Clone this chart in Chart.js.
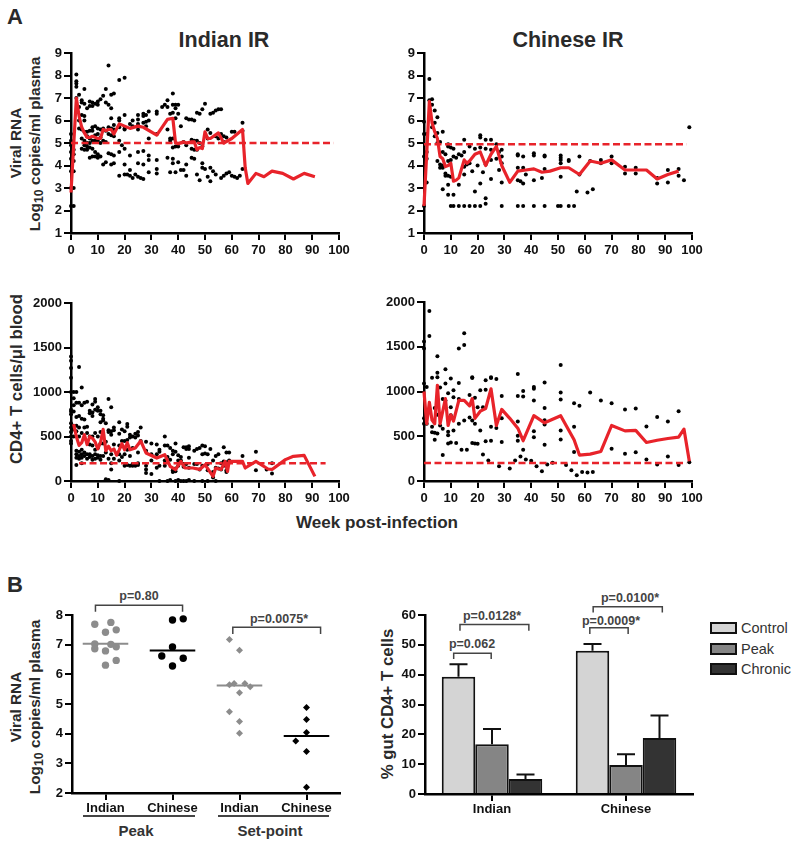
<!DOCTYPE html>
<html>
<head>
<meta charset="utf-8">
<title>Viral RNA and CD4+ T cells</title>
<script src="https://cdn.jsdelivr.net/npm/chart.js@4/dist/chart.umd.min.js"></script>
<style>
    html, body { margin: 0; padding: 0; background: #fff; }
    #page { position: relative; width: 800px; height: 846px; overflow: hidden; font-family: "Liberation Sans", Arial, sans-serif; color: #2a2a2a; }
    canvas { position: absolute; }
    .t { position: absolute; white-space: nowrap; font-weight: bold; transform: translate(-50%, -50%); }
    .v { transform: translate(-50%, -50%) rotate(-90deg); }
    .ylab { font-size: 15.4px; }
    .ylab2 { font-size: 16.8px; }
    .pval { font-size: 12.5px; color: #444; }
    .grp { font-size: 15px; color: #333; }
    sub { font-size: 80%; line-height: 0; vertical-align: -3px; }
    .rule { position: absolute; height: 1.5px; background: #444; }
    .swatch { position: absolute; width: 23px; height: 8px; border: 2px solid #111; }
    .key { position: absolute; font-size: 14.5px; color: #333; white-space: nowrap; transform: translateY(-50%); }
</style>
</head>
<body>
<div id="page">
    <div class="t" style="left:15px;top:17px;font-size:22px">A</div>
    <div class="t" style="left:15px;top:585px;font-size:22px">B</div>
    <div class="t" style="left:224px;top:40px;font-size:21.5px">Indian IR</div>
    <div class="t" style="left:568px;top:40px;font-size:21.5px">Chinese IR</div>

    <div class="t v ylab" style="left:16px;top:143px">Viral RNA</div>
    <div class="t v ylab" style="left:35px;top:144px">Log<sub>10</sub> copies/ml plasma</div>
    <div class="t v ylab2" style="left:17px;top:379px">CD4+ T cells/μl blood</div>
    <div class="t" style="left:377px;top:523px;font-size:17.1px">Week post-infection</div>

    <div class="t v ylab" style="left:16px;top:707px">Viral RNA</div>
    <div class="t v ylab" style="left:35px;top:707px">Log<sub>10</sub> copies/ml plasma</div>
    <div class="t v ylab2" style="left:388px;top:704px">% gut CD4+ T cells</div>

    <div class="t pval" style="left:139px;top:596px">p=0.80</div>
    <div class="t pval" style="left:279px;top:619px">p=0.0075*</div>
    <div class="t pval" style="left:472px;top:644px">p=0.062</div>
    <div class="t pval" style="left:492px;top:616px">p=0.0128*</div>
    <div class="t pval" style="left:611px;top:621px">p=0.0009*</div>
    <div class="t pval" style="left:630px;top:598px">p=0.0100*</div>

    <div class="rule" style="left:83px;top:815px;width:112px"></div>
    <div class="rule" style="left:218px;top:815px;width:111px"></div>
    <div class="t grp" style="left:136px;top:830px">Peak</div>
    <div class="t grp" style="left:270px;top:830px">Set-point</div>

    <div id="legend"></div>

    <canvas id="rnaIndian"></canvas>
    <canvas id="rnaChinese"></canvas>
    <canvas id="cd4Indian"></canvas>
    <canvas id="cd4Chinese"></canvas>
    <canvas id="peakSet"></canvas>
    <canvas id="gutBars"></canvas>
</div>

<script>
// Panel A, viral RNA: [week, [values]]
const rnaIndianDots = [
    [0, [2.2, 3.0, 3.75, 4.3, 4.6, 4.9, 5.1, 5.4]], [1, [2.2, 3.0, 3.75, 4.2, 4.5, 4.7]],
    [2, [8.05, 7.75, 7.65, 7.5, 7.0]], [3, [7.15, 6.6, 6.0, 5.65]], [4, [6.9, 6.8, 6.25, 5.6, 5.2, 4.75]],
    [5, [7.4, 6.75, 6.2, 6.0, 5.5, 5.1, 4.9, 4.7]], [6, [6.55, 5.5, 5.3, 5.0, 4.85, 4.7]],
    [7, [6.85, 6.65, 5.55, 5.2, 5.0, 4.8, 4.35]], [8, [6.8, 6.65, 5.7, 5.55, 5.1, 4.75, 4.4]],
    [9, [6.75, 5.75, 5.35, 5.1, 4.6, 4.4]], [10, [6.85, 6.7, 5.65, 5.4, 5.1, 4.5, 4.35]],
    [11, [6.95, 5.6, 5.25, 5.0, 4.4]], [12, [7.1, 5.65, 5.1, 4.05]], [13, [7.4, 6.8, 5.55, 5.05, 4.15]],
    [14, [8.45, 6.7, 5.7, 5.4, 4.55]], [15, [7.15, 6.55, 6.1, 5.65, 5.35, 4.5, 4.05]],
    [16, [7.2, 5.8, 5.6, 5.3, 4.45, 4.1]], [18, [7.8, 6.1, 6.0, 5.7, 5.1, 4.6, 3.55]], [19, [4.9]],
    [20, [7.9, 6.25, 5.65, 5.6, 4.75, 4.05, 3.6]], [21, [3.6]], [22, [5.85, 4.45, 3.8, 3.55]],
    [23, [6.0, 5.75, 3.45]], [24, [3.6]], [25, [6.25, 6.05, 5.85, 5.6, 4.6, 4.1, 3.5]], [26, [3.45]],
    [27, [6.3, 6.2, 5.9, 4.65, 4.05, 3.4]], [28, [6.25, 5.95, 5.75]], [29, [6.4, 6.0, 5.2, 4.45, 4.25, 3.7]],
    [32, [6.4, 6.3, 5.4, 4.25, 3.85, 3.65]], [34, [6.6]], [35, [6.7]], [36, [6.9, 6.6, 5.6, 4.35]],
    [37, [6.3, 5.2, 5.1, 3.7]], [38, [7.2, 6.7, 6.35, 5.2, 4.8, 4.3, 4.1]], [39, [6.7, 6.55, 6.1, 4.85, 3.7]],
    [40, [6.7, 6.3, 4.85, 4.15]], [41, [5.75, 3.8]], [42, [5.05, 3.8]], [43, [6.1, 4.9, 4.05, 3.55]],
    [44, [6.05]], [45, [6.05, 5.15, 4.75, 4.35]], [46, [6.0, 5.1, 4.7, 4.3]], [47, [6.35, 5.1, 4.7, 3.6]],
    [48, [6.3, 5.0, 3.35]], [49, [6.5, 4.85, 4.1, 3.9]], [50, [6.75, 3.85]], [51, [5.6, 5.2, 3.5]],
    [52, [6.3, 5.45, 3.9, 3.3]], [53, [6.35, 3.75]], [54, [6.45, 5.3, 3.6]], [55, [6.5, 5.2]],
    [56, [6.5, 5.4, 3.45]], [57, [5.3, 5.05, 3.55]], [58, [5.25, 3.65]], [59, [3.7]], [60, [5.5, 3.55]],
    [61, [5.5, 3.5]], [62, [3.45]], [63, [3.55]], [64, [5.9, 5.55, 3.85]]
];
const rnaChineseDots = [
    [0, [2.2, 4.4, 5.4, 5.95]], [1, [3.25, 4.3, 4.6, 5.4]], [2, [7.85, 6.9]], [3, [6.95, 6.7, 5.7]],
    [4, [6.45, 5.9, 5.3]], [5, [6.15, 5.45, 5.0, 4.2]], [6, [5.05, 4.05, 3.9]], [7, [5.5, 4.6, 4.0, 3.9, 2.95]],
    [8, [4.5, 3.65, 3.55]], [9, [4.95, 4.85, 4.2, 3.55, 3.15, 2.7]], [10, [4.8, 4.25, 3.5, 2.2]],
    [11, [4.75, 4.4, 2.7, 2.2]], [12, [4.35]], [13, [4.5, 3.15, 2.2]], [14, [4.45]],
    [15, [5.15, 4.6, 3.95, 3.6, 2.2]], [16, [4.05]], [17, [4.85, 4.1, 2.2]], [18, [3.75]],
    [19, [4.75, 2.85, 2.2]], [20, [4.0]], [21, [5.35, 5.25, 4.8, 3.2, 2.2]], [22, [3.7]],
    [23, [5.15, 4.75, 4.05, 2.55, 2.3]], [25, [5.15, 4.7, 4.25, 3.4]], [27, [4.95, 4.3]], [28, [4.6, 3.8]],
    [29, [4.7, 4.4, 4.1, 3.25, 2.2]], [35, [4.5, 4.45, 3.9, 3.35, 2.2]], [36, [3.3]],
    [37, [4.4, 3.9, 3.2, 2.2]], [38, [3.6]], [41, [4.55, 4.45, 3.35, 2.2]], [44, [3.45]],
    [45, [4.45, 4.4, 3.85, 2.2]], [50, [2.2]], [51, [4.45, 4.35, 4.25, 4.1, 3.5, 2.2]], [54, [4.25, 4.2, 2.2]],
    [56, [2.2]], [57, [2.85]], [58, [4.4, 3.6]], [61, [2.8]], [62, [4.2]], [63, [2.95]], [66, [4.25, 4.1]],
    [70, [4.4, 4.1]], [75, [3.95, 3.65]], [79, [3.9, 3.65]], [87, [3.45, 3.2]], [91, [3.8, 3.25]],
    [95, [3.85, 3.55]], [97, [3.35]], [99, [5.7]]
];

// Panel A, CD4 counts: [week, [values]]
const cd4IndianDots = [
    [0, [1400, 1350, 1270, 1160, 1000, 800, 780, 750, 650, 600, 550, 500, 450, 420]],
    [1, [1000, 930, 850, 780, 620, 580, 500]], [2, [1000, 880, 720, 620, 560, 340, 300, 260, 180]],
    [3, [1280, 880, 730, 600, 500, 330, 280, 250]], [4, [1050, 850, 700, 540, 350, 300, 260, 200]],
    [5, [880, 690, 600, 480, 320, 280]], [6, [890, 610, 540, 300, 250]], [7, [790, 760, 500, 410, 300, 270]],
    [8, [860, 770, 730, 500, 400, 280, 240]], [9, [920, 890, 800, 540, 350, 300, 250]],
    [10, [830, 790, 500, 370, 290, 260]], [11, [790, 750, 660, 550, 420, 280, 240]],
    [12, [740, 700, 680, 420, 280]], [13, [650, 440, 320, 20]], [14, [920, 570, 550, 250, 10]],
    [15, [830, 560, 520, 300, 200, 130]], [16, [600, 570, 410, 250]], [18, [660, 530, 400, 300, 230, 0]],
    [19, [580, 450, 390, 270]], [20, [560, 450, 300, 170]], [21, [640, 610, 460, 350, 180]],
    [22, [520, 490, 280, 170]], [23, [500, 370, 190, 170]], [24, [530, 490, 190, 170]],
    [25, [550, 510, 320, 200, 180]], [26, [600, 450]], [28, [440, 340, 170, 130, 90]], [30, [420, 300, 230, 80]],
    [32, [410, 300, 150]], [33, [350, 330, 170, 0]], [35, [500, 400, 230, 170]], [36, [400, 270, 0]],
    [37, [370, 240, 10]], [38, [340, 300, 120, 100]], [39, [420, 330, 140, 110, 0]], [40, [290, 230, 170, 10]],
    [41, [270, 230, 0]], [42, [380, 190, 160, 0]], [43, [380, 360, 190, 0]], [44, [390, 360, 260, 150, 10]],
    [46, [340, 190, 0]], [47, [360, 190]], [48, [370, 130]], [49, [400, 300, 170, 0]], [50, [390, 310]],
    [51, [300, 190, 120, 0]], [52, [360]], [53, [230, 100, 40]], [54, [280, 150, 0]], [55, [300, 140]],
    [56, [200, 130]], [57, [380, 220, 170]], [58, [320, 210, 120, 100]], [59, [320, 230]], [64, [280]],
    [69, [330, 120]], [73, [130]], [75, [200, 85]]
];
const cd4ChineseDots = [
    [0, [1560, 1480, 1090, 700, 640]], [1, [1050, 640]], [2, [1900, 1620]], [3, [1155, 605, 545]],
    [4, [815, 540, 460]], [5, [1395, 1210, 1160, 740, 530]], [6, [1045, 620]], [7, [915, 585, 290]],
    [8, [1250, 1090, 900]], [9, [980, 550, 510, 420]], [10, [1145, 825, 735, 430]], [11, [1015, 935, 565]],
    [12, [425]], [13, [1480, 1095, 915, 640]], [14, [350]], [15, [1650, 1520, 675]], [16, [350]],
    [17, [960, 710]], [18, [1160, 1150, 675, 425]], [19, [930, 640, 420]], [20, [825, 415]],
    [21, [1015, 565]], [22, [825, 295]], [23, [1125, 1020, 445]], [24, [230]], [25, [1160, 1150, 605, 450]],
    [27, [1140, 593]], [28, [165]], [29, [950, 700, 435]], [32, [140]], [34, [230]],
    [35, [1195, 950, 665, 505, 450]], [36, [275]], [37, [1005, 945, 350]], [38, [240]], [40, [225]],
    [41, [1050, 1030, 900, 555, 490]], [42, [165]], [44, [110]], [45, [1100, 815, 680, 630, 405]], [46, [185]],
    [48, [205]], [51, [1295, 990, 910, 565, 465]], [53, [180]], [55, [120]], [56, [870, 605, 325]], [57, [65]],
    [58, [840]], [59, [100]], [61, [95]], [62, [990]], [63, [100]], [66, [900]], [70, [870, 360]],
    [75, [800, 305]], [79, [810, 320]], [83, [610, 240]], [87, [715, 185]], [91, [665, 275]], [95, [780, 180]],
    [99, [210]]
];

// Panel A, red mean lines: [week, value]
const rnaIndianMean = [[0, 2.8], [2, 7.0], [3, 6.2], [4, 5.7], [5, 5.45], [6, 5.25], [7, 5.25], [8, 5.3], [9, 5.25], [10, 5.2], [11, 5.2], [12, 5.6], [13, 5.55], [14, 5.6], [15, 5.6], [16, 5.4], [18, 5.85], [20, 5.75], [22, 5.65], [25, 5.75], [27, 5.7], [32, 5.35], [36, 6.05], [38, 6.1], [39, 5.0], [40, 4.97], [42, 5.05], [43, 5.0], [45, 5.05], [46, 5.05], [47, 4.7], [48, 4.8], [49, 4.75], [50, 5.5], [51, 5.2], [52, 5.2], [55, 5.45], [57, 5.0], [60, 5.2], [64, 5.6], [65, 3.9], [66, 3.2], [69, 3.65], [72, 3.5], [75, 3.75], [79, 3.65], [83, 3.4], [87, 3.65], [91, 3.5]];
const rnaChineseMean = [[0, 2.2], [1, 4.5], [2, 6.85], [3, 5.9], [4, 5.5], [5, 5.2], [6, 4.4], [7, 4.3], [8, 3.95], [9, 4.0], [10, 4.1], [11, 3.3], [12, 3.35], [13, 3.45], [15, 4.25], [16, 4.1], [17, 4.2], [19, 4.5], [21, 4.6], [23, 4.0], [25, 4.5], [27, 4.85], [29, 4.0], [32, 3.25], [35, 3.75], [38, 3.8], [41, 3.85], [44, 3.7], [47, 3.75], [51, 3.9], [54, 3.9], [58, 3.6], [62, 4.2], [66, 4.1], [70, 4.25], [75, 3.8], [79, 3.8], [83, 3.8], [87, 3.4], [91, 3.6], [95, 3.75]];
const cd4IndianMean = [[1, 640], [2, 500], [3, 400], [4, 430], [5, 520], [6, 410], [7, 500], [8, 480], [9, 440], [10, 360], [11, 430], [12, 580], [13, 340], [14, 390], [15, 340], [16, 360], [17, 290], [18, 350], [19, 420], [20, 350], [21, 430], [22, 350], [24, 370], [26, 450], [28, 315], [32, 258], [35, 296], [37, 165], [39, 127], [41, 220], [42.5, 146], [45.5, 146], [48, 130], [50, 183], [53, 52], [54, 146], [56, 130], [57.5, 220], [58.4, 108], [59, 220], [64, 220], [65, 146], [69, 220], [73.5, 135], [75, 130], [80, 240], [83, 277], [87, 288], [91, 52]];
const cd4ChineseMean = [[0, 1000], [1, 640], [2, 880], [3, 680], [4, 640], [5, 1070], [6, 640], [7, 780], [8, 920], [9, 620], [10, 740], [11, 670], [13, 900], [15, 900], [17, 840], [18, 920], [19, 700], [21, 780], [23, 810], [25, 1030], [27, 620], [29, 800], [32, 700], [35, 590], [37, 450], [41, 730], [45, 650], [51, 730], [56, 460], [58, 290], [62, 300], [66, 330], [70, 620], [75, 560], [79, 565], [83, 430], [87, 455], [91, 475], [95, 490], [97, 580], [99, 220]];

// Dashed thresholds: [start week, end week, value]
const rnaIndianLimit = [0, 98, 5];
const rnaChineseLimit = [0, 98, 4.95];
const cd4IndianLimit = [3, 95, 200];
const cd4ChineseLimit = [0, 98, 200];

// Panel B, left: category slot (0-4) and value
const peakSetLabels = ['Indian', 'Chinese', 'Indian', 'Chinese'];
const peakIndian = [[0.34, 7.69], [0.58, 7.75], [0.5, 7.42], [0.66, 7.5], [0.34, 7.02], [0.34, 6.86], [0.58, 7.01], [0.66, 6.93], [0.5, 6.79], [0.66, 6.47], [0.5, 6.31]];
const peakChinese = [[1.5, 7.83], [1.66, 7.87], [1.5, 6.92], [1.34, 6.62], [1.66, 6.54], [1.5, 6.28]];
const setIndian = [[2.35, 7.17], [2.5, 6.81], [2.35, 5.65], [2.42, 5.69], [2.58, 5.69], [2.66, 5.58], [2.5, 5.38], [2.35, 4.74], [2.5, 4.41], [2.5, 4.01]];
const setChinese = [[3.5, 4.88], [3.5, 4.48], [3.5, 4.04], [3.34, 3.75], [3.5, 3.4], [3.5, 2.19]];
const medians = [7.03, 6.8, 5.62, 3.92];
const peakSetBrackets = [[0.35, 1.65, 8.33, 8.11], [2.4, 3.71, 7.59, 7.36]];

// Panel B, right: bars. Bracket x runs over the two groups, 0 to 2
const gutGroups = ['Indian', 'Chinese'];
const seriesNames = ['Control', 'Peak', 'Chronic'];
const controlGut = [39.3, 48];
const peakGut = [16.7, 9.7];
const chronicGut = [5, 18.8];
const controlTop = [43.5, 50.3];
const peakTop = [21.8, 13.3];
const chronicTop = [6.5, 26.3];
const gutBrackets = [[0.214, 0.494, 47.15, 45.25], [0.261, 0.775, 56.8, 54.75], [1.23, 1.516, 55.75, 53.6], [1.255, 1.771, 62.8, 60.8]];

const RED = '#e8232a';
const GREY = '#8c8c8c';
const SERIES_FILL = ['#d4d4d4', '#858585', '#333333'];
const tickFont = { family: "'Liberation Sans', Arial, sans-serif", size: 13, weight: 'bold' };

Chart.defaults.animation = false;
Chart.defaults.responsive = false;

// Put the canvas so that the plot area lands on the given box
function placeCanvas(id, box, margin) {
    const canvas = document.getElementById(id);
    canvas.width = box.right - box.left + margin.left + margin.right;
    canvas.height = box.bottom - box.top + margin.top + margin.bottom;
    canvas.style.left = (box.left - margin.left) + 'px';
    canvas.style.top = (box.top - margin.top) + 'px';
    return canvas;
}

function axis(min, max, step, extra) {
    return Object.assign({
        type: 'linear',
        min: min,
        max: max,
        border: { display: true, color: '#000', width: 2.5 },
        grid: { drawOnChartArea: false, color: '#000', tickColor: '#000', tickLength: 7, lineWidth: 2 },
        ticks: { stepSize: step, color: '#111', font: tickFont, padding: 2, maxRotation: 0, autoSkip: false, callback: v => String(v) }
    }, extra);
}

function fixedHeight(h) { return { afterFit: s => { s.height = h; } }; }
function fixedWidth(w) { return { afterFit: s => { s.width = w; } }; }

function expand(groups) {
    const out = [];
    groups.forEach(([week, values]) => values.forEach(v => out.push({ x: week, y: v })));
    return out;
}

function toXY(pairs) {
    return pairs.map(([x, y]) => ({ x, y }));
}

function bracketSet(brackets) {
    return brackets.map(([a, b, top, foot]) => ({
        showLine: true,
        clip: false,
        borderColor: '#444',
        borderWidth: 1.5,
        pointRadius: 0,
        data: toXY([[a, foot], [a, top], [b, top], [b, foot]])
    }));
}

// Time course panels
function timeCourse(id, box, dots, mean, limit, yMin, yMax, yStep) {
    const margin = { left: 45, right: 14, top: 10, bottom: 30 };
    const xAxis = axis(0, 100, 10, fixedHeight(margin.bottom));
    xAxis.ticks.padding = 3;
    new Chart(placeCanvas(id, box, margin), {
        type: 'scatter',
        data: {
            datasets: [
                {
                    label: 'Threshold', order: 1, showLine: true, clip: false, borderColor: RED, borderWidth: 2.5,
                    borderDash: [7, 3.5], pointRadius: 0,
                    data: [{ x: limit[0], y: limit[2] }, { x: limit[1], y: limit[2] }]
                },
                {
                    label: 'Mean', order: 0, showLine: true, clip: false, borderColor: RED, borderWidth: 3.2,
                    borderJoinStyle: 'round', pointRadius: 0, data: toXY(mean)
                },
                {
                    label: 'Animals', order: 2, clip: false, pointRadius: 2, pointBorderWidth: 0,
                    pointBackgroundColor: '#000', data: expand(dots)
                }
            ]
        },
        options: {
            layout: { padding: { top: margin.top, right: margin.right } },
            plugins: { legend: { display: false }, tooltip: { enabled: false } },
            scales: {
                x: xAxis,
                y: axis(yMin, yMax, yStep, fixedWidth(margin.left))
            }
        }
    });
}

timeCourse('rnaIndian', { left: 71, right: 339, top: 53, bottom: 233 }, rnaIndianDots, rnaIndianMean, rnaIndianLimit, 1, 9, 1);
timeCourse('rnaChinese', { left: 424, right: 692, top: 53, bottom: 233 }, rnaChineseDots, rnaChineseMean, rnaChineseLimit, 1, 9, 1);
timeCourse('cd4Indian', { left: 71, right: 339, top: 303, bottom: 481 }, cd4IndianDots, cd4IndianMean, cd4IndianLimit, 0, 2000, 500);
timeCourse('cd4Chinese', { left: 424, right: 692, top: 302, bottom: 481 }, cd4ChineseDots, cd4ChineseMean, cd4ChineseLimit, 0, 2000, 500);

// Peak and set-point panel
function medianLine(slot, value, color) {
    return {
        showLine: true, clip: false, borderColor: color, borderWidth: 2, pointRadius: 0,
        data: [{ x: slot + 0.16, y: value }, { x: slot + 0.84, y: value }]
    };
}

function swarm(points, color, shape, size) {
    return {
        clip: false, pointStyle: shape, pointRadius: size, pointBorderWidth: 0,
        pointBackgroundColor: color, data: toXY(points)
    };
}

(function () {
    const margin = { left: 45, right: 14, top: 40, bottom: 30 };
    const xAxis = axis(0, 4, 1, fixedHeight(margin.bottom));
    xAxis.afterBuildTicks = s => { s.ticks = peakSetLabels.map((_, i) => ({ value: i + 0.5 })); };
    xAxis.ticks.callback = v => peakSetLabels[Math.floor(v)];
    xAxis.ticks.padding = 1;
    new Chart(placeCanvas('peakSet', { left: 72, right: 340, top: 615, bottom: 793 }, margin), {
        type: 'scatter',
        data: {
            datasets: [
                swarm(peakIndian, GREY, 'circle', 3.7),
                swarm(peakChinese, '#000', 'circle', 3.7),
                swarm(setIndian, GREY, 'rectRot', 3.5),
                swarm(setChinese, '#000', 'rectRot', 3.5),
                medianLine(0, medians[0], GREY),
                medianLine(1, medians[1], '#000'),
                medianLine(2, medians[2], GREY),
                medianLine(3, medians[3], '#000')
            ].concat(bracketSet(peakSetBrackets))
        },
        options: {
            layout: { padding: { top: margin.top, right: margin.right } },
            plugins: { legend: { display: false }, tooltip: { enabled: false } },
            scales: {
                x: xAxis,
                y: axis(2, 8, 1, fixedWidth(margin.left))
            }
        }
    });
})();

// Upward error bars and p-value brackets for the gut panel
const gutMarks = {
    id: 'gutMarks',
    afterDatasetsDraw(chart) {
        const ctx = chart.ctx;
        const { x, y } = chart.scales;
        const tops = [controlTop, peakTop, chronicTop];
        ctx.save();
        ctx.strokeStyle = '#111';
        ctx.lineWidth = 2;
        tops.forEach((values, i) => {
            chart.getDatasetMeta(i).data.forEach((bar, j) => {
                const top = y.getPixelForValue(values[j]);
                ctx.beginPath();
                ctx.moveTo(bar.x, bar.y);
                ctx.lineTo(bar.x, top);
                ctx.moveTo(bar.x - 9, top);
                ctx.lineTo(bar.x + 9, top);
                ctx.stroke();
            });
        });
        ctx.strokeStyle = '#444';
        ctx.lineWidth = 1.5;
        gutBrackets.forEach(([a, b, top, foot]) => {
            // category index 0 sits at the middle of the first group
            const xa = x.getPixelForValue(a - 0.5);
            const xb = x.getPixelForValue(b - 0.5);
            ctx.beginPath();
            ctx.moveTo(xa, y.getPixelForValue(foot));
            ctx.lineTo(xa, y.getPixelForValue(top));
            ctx.lineTo(xb, y.getPixelForValue(top));
            ctx.lineTo(xb, y.getPixelForValue(foot));
            ctx.stroke();
        });
        ctx.restore();
    }
};

(function () {
    const margin = { left: 45, right: 14, top: 40, bottom: 30 };
    const values = [controlGut, peakGut, chronicGut];
    const xAxis = axis(0, 1, 1, fixedHeight(margin.bottom));
    xAxis.type = 'category';
    delete xAxis.min;
    delete xAxis.max;
    delete xAxis.ticks.callback;
    xAxis.grid.offset = false;
    xAxis.ticks.padding = 1;
    new Chart(placeCanvas('gutBars', { left: 425, right: 693, top: 615, bottom: 794 }, margin), {
        type: 'bar',
        data: {
            labels: gutGroups,
            datasets: seriesNames.map((name, i) => ({
                label: name,
                data: values[i],
                backgroundColor: SERIES_FILL[i],
                borderColor: '#111',
                borderWidth: 2,
                categoryPercentage: 0.75,
                barPercentage: 1
            }))
        },
        options: {
            layout: { padding: { top: margin.top, right: margin.right } },
            plugins: { legend: { display: false }, tooltip: { enabled: false } },
            scales: {
                x: xAxis,
                y: axis(0, 60, 10, fixedWidth(margin.left))
            }
        },
        plugins: [gutMarks]
    });
})();

// Legend for the bars
const legendEl = document.getElementById('legend');
seriesNames.forEach((name, i) => {
    const top = 622 + i * 20.5;
    legendEl.innerHTML += `<div class="swatch" style="left:710px;top:${top}px;background:${SERIES_FILL[i]}"></div>` +
        `<div class="key" style="left:741px;top:${top + 6}px">${name}</div>`;
});
</script>
</body>
</html>
